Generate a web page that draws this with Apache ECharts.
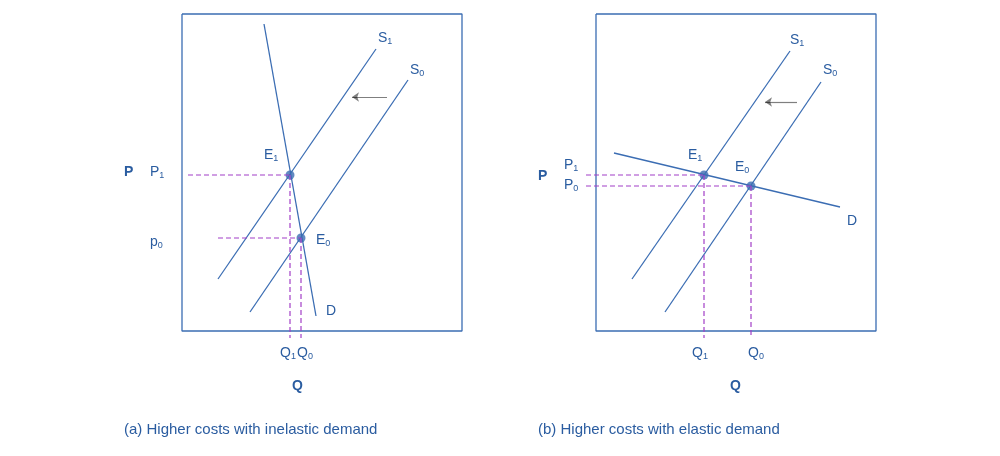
<!DOCTYPE html><html><head><meta charset="utf-8"><script src="https://cdn.jsdelivr.net/npm/echarts@6/dist/echarts.min.js"></script>
<style>html,body{margin:0;background:#fff}#c{width:1000px;height:456px}</style></head><body><div id="c"></div><script>
// coordinates in a 1000x456 canvas space (y down)
const boxA=[[182,14],[462,14],[462,331],[182,331],[182,14]];
const boxB=[[596,14],[876,14],[876,331],[596,331],[596,14]];
const curvesA={D:[[264,24],[316,316]],S1:[[218,279],[376,49]],S0:[[250,312],[408,80]]};
const curvesB={D:[[614,153],[840,207]],S1:[[632,279],[790,51]],S0:[[665,312],[821,82]]};
const eqA=[[290,175],[301,238]];
const eqB=[[704,175],[751,186]];
const dashA=[[[188,175],[290,175]],[[218,238],[301,238]],[[290,175],[290,338]],[[301,238],[301,338]]];
const dashB=[[[586,175],[704,175]],[[586,186],[751,186]],[[704,175],[704,338]],[[751,186],[751,338]]];
const arrows=[[[387,97],[352,97]],[[797,102],[765,102]]];
const labels=[
 ['S','1',378,38],['S','0',410,70],['E','1',264,155],['E','0',316,240],['D','',326,311],
 ['P','1',150,172],['p','0',150,242],['Q','1',280,353],['Q','0',297,353],
 ['S','1',790,40],['S','0',823,70],['E','1',688,155],['E','0',735,167],['D','',847,221],
 ['P','1',564,165],['P','0',564,185],['Q','1',692,353],['Q','0',748,353]];
const bold=[['P',124,172],['Q',292,386],['P',538,176],['Q',730,386]];
const captions=[['(a) Higher costs with inelastic demand',124,430],['(b) Higher costs with elastic demand',538,430]];
const blue='#3b6db3', txt='#2a5ca0', purple='#a23fc7';
const series=[];
const ln=(d,extra)=>series.push(Object.assign({type:'line',data:d,symbol:'none',silent:true,lineStyle:{color:blue,width:1.3}},extra||{}));
ln(boxA);ln(boxB);
[curvesA,curvesB].forEach(c=>Object.values(c).forEach(d=>ln(d)));
[...dashA,...dashB].forEach(d=>ln(d,{lineStyle:{color:purple,width:1.2,type:[5,3]}}));
arrows.forEach(d=>series.push({type:'lines',coordinateSystem:'cartesian2d',silent:true,symbol:['none','arrow'],symbolSize:7,lineStyle:{color:'#000',width:1.2},data:[{coords:d}]}));
series.push({type:'scatter',data:[...eqA,...eqB],symbolSize:9,itemStyle:{color:blue},silent:true});
const graphic=[];
labels.forEach(l=>graphic.push({type:'text',x:l[2],y:l[3],style:{text:'{m|'+l[0]+'}{s|'+l[1]+'}',verticalAlign:'middle',rich:{m:{fontSize:14,fill:txt,fontFamily:'Arial'},s:{fontSize:9,fill:txt,fontFamily:'Arial',padding:[8,0,0,0]}}}}));
bold.forEach(l=>graphic.push({type:'text',x:l[1],y:l[2],style:{text:l[0],fontSize:14,fontWeight:'bold',fill:txt,fontFamily:'Arial',verticalAlign:'middle'}}));
captions.forEach(l=>graphic.push({type:'text',x:l[1],y:l[2],style:{text:l[0],fontSize:15,fill:txt,fontFamily:'Arial',verticalAlign:'middle'}}));
const ch=echarts.init(document.getElementById('c'));
ch.setOption({animation:false,grid:{left:0,right:0,top:0,bottom:0},
 xAxis:{type:'value',min:0,max:1000,show:false},yAxis:{type:'value',min:0,max:456,inverse:true,show:false},
 series,graphic});
</script></body></html>
